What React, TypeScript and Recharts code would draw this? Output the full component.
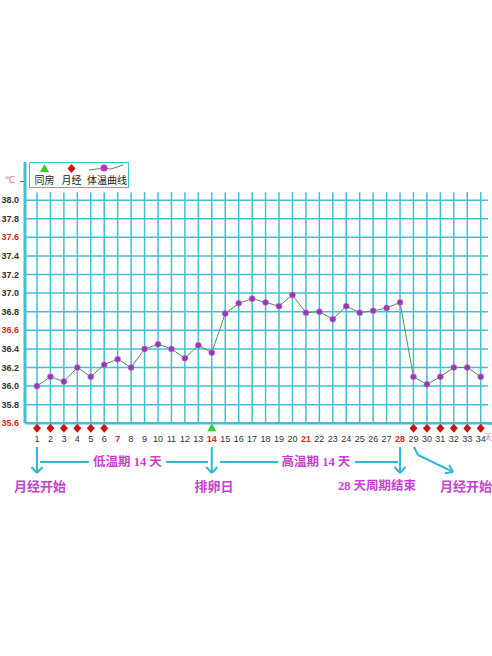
import { ComposedChart, Line, Scatter, XAxis, YAxis, ReferenceLine, ReferenceDot, Legend } from 'recharts';

// ---- data ----
const days = [1, 2, 3, 4, 5, 6, 7, 8, 9, 10, 11, 12, 13, 14, 15, 16, 17, 18, 19, 20, 21, 22, 23, 24, 25, 26, 27, 28, 29, 30, 31, 32, 33, 34];
const temperatures = [
  36.0, 36.1, 36.05, 36.2, 36.1, 36.23, 36.29, 36.2, 36.4, 36.45, 36.4, 36.3, 36.44, 36.36,
  36.78, 36.89, 36.94, 36.9, 36.86, 36.98, 36.79, 36.8, 36.72, 36.86, 36.79, 36.81, 36.84, 36.9,
  36.1, 36.02, 36.1, 36.2, 36.2, 36.1,
];
const tempTicks = [35.6, 35.8, 36.0, 36.2, 36.4, 36.6, 36.8, 37.0, 37.2, 37.4, 37.6, 37.8, 38.0];
const redTempTicks = [35.6, 36.6, 37.6];
const redDays = [7, 14, 21, 28];
const periodDays = [1, 2, 3, 4, 5, 6, 29, 30, 31, 32, 33, 34];
const intercourseDays = [14];

const series = days.map((day, i) => ({ day, temp: temperatures[i] }));
const periodMarks = periodDays.map((day) => ({ day, temp: 35.6 }));
const intercourseMarks = intercourseDays.map((day) => ({ day, temp: 35.6 }));

// ---- look ----
const GRID = '#3fc1d3';
const ARROW = '#2fb6d6';
const PINK = '#c83fd2';
const X_MIN = 0.1075;
const X_MAX = 34.84;
const GRID_RIGHT = 34.54;
const Y_MIN = 35.6;
const Y_MAX = 38.41;
const V_GRID_TOP = 38.086;
const CJK = "'Liberation Serif', 'Noto Sans CJK SC', serif";
const SANS = "'Liberation Sans', Arial, sans-serif";

// annotation levels (temperature units below the axis)
const ARROW_TOP = 35.345;
const ARROW_BOT = 35.066;
const WING = 35.13;
const SPAN_Y = 35.184;
const NOTE_Y = 34.926;

const DayTick = (props: any) => {
  const { x, y, payload } = props;
  const red = redDays.includes(payload.value);
  return (
    <text x={x} y={y + 17} textAnchor="middle" fontSize={9} fontFamily={SANS} fontWeight={red ? 700 : 400} fill={red ? '#d42a2a' : '#333'}>
      {payload.value}
    </text>
  );
};

const TempTick = (props: any) => {
  const { x, y, payload } = props;
  if (payload.value > 38.1) {
    return (
      <g>
        <text x={x - 9} y={y + 1} textAnchor="middle" fontSize={10} fontFamily={SANS} fill="#e06cc0">℃</text>
        <line x1={x + 1} x2={x + 5} y1={y} y2={y} stroke="#666" strokeWidth={1} />
      </g>
    );
  }
  const red = redTempTicks.includes(payload.value);
  return (
    <text x={x} y={y + 3} textAnchor="end" fontSize={9} fontFamily={SANS} fontWeight={700} fill={red ? '#d42a2a' : '#333'}>
      {payload.value.toFixed(1)}
    </text>
  );
};

const Diamond = (props: any) => {
  const { cx, cy } = props;
  const c = cy + 5;
  return <path d={`M${cx},${c - 4.5}L${cx + 4},${c}L${cx},${c + 4.5}L${cx - 4},${c}Z`} fill="#cc1414" />;
};

const Triangle = (props: any) => {
  const { cx, cy } = props;
  const c = cy + 5;
  return <path d={`M${cx},${c - 5}L${cx + 4.5},${c + 3}L${cx - 4.5},${c + 3}Z`} fill="#2ed12e" />;
};

const LegendBox = () => (
  <div
    style={{
      width: 98, height: 24, border: `1px solid ${GRID}`, background: '#fff',
      display: 'flex', fontFamily: "'Noto Sans CJK SC', sans-serif", fontSize: 10, color: '#222',
    }}
  >
    <div style={{ marginLeft: 4, width: 21, textAlign: 'center' }}>
      <svg width={21} height={11} style={{ display: 'block' }}>
        <path d="M10.5,1L15,9L6,9Z" fill="#2ed12e" />
      </svg>
      <div style={{ lineHeight: '12px' }}>同房</div>
    </div>
    <div style={{ marginLeft: 6, width: 21, textAlign: 'center' }}>
      <svg width={21} height={11} style={{ display: 'block' }}>
        <path d="M10.5,1L14.5,5.5L10.5,10L6.5,5.5Z" fill="#cc1414" />
      </svg>
      <div style={{ lineHeight: '12px' }}>月经</div>
    </div>
    <div style={{ marginLeft: 5, width: 40, textAlign: 'center' }}>
      <svg width={40} height={11} style={{ display: 'block' }}>
        <polyline points="2,7 10,6 16,5 24,6 30,4 36,2" fill="none" stroke="#4f8f5a" strokeWidth={1} />
        <circle cx={17} cy={5} r={3.5} fill="#c030d0" />
      </svg>
      <div style={{ lineHeight: '12px' }}>体温曲线</div>
    </div>
  </div>
);

const seg = (x1: number, y1: number, x2: number, y2: number) => [{ x: x1, y: y1 }, { x: x2, y: y2 }];

const downArrow = (d: number) => [
  seg(d, ARROW_TOP, d, ARROW_BOT),
  seg(d - 0.41, WING, d, ARROW_BOT),
  seg(d + 0.41, WING, d, ARROW_BOT),
];

const annotationSegments = [
  ...downArrow(1),
  ...downArrow(14),
  ...downArrow(28),
  seg(1.22, SPAN_Y, 4.87, SPAN_Y),
  seg(10.59, SPAN_Y, 13.72, SPAN_Y),
  seg(14.61, SPAN_Y, 18.92, SPAN_Y),
  seg(24.65, SPAN_Y, 27.85, SPAN_Y),
  seg(29.04, ARROW_TOP, 29.34, 35.259),
  seg(29.34, 35.259, 31.94, 35.077),
  seg(31.35, 35.063, 31.94, 35.077),
  seg(31.65, 35.152, 31.94, 35.077),
];

const notes = [
  { x: 7.73, y: SPAN_Y, text: '低温期 14 天', size: 12.5 },
  { x: 21.75, y: SPAN_Y, text: '高温期 14 天', size: 12.5 },
  { x: 1.22, y: NOTE_Y, text: '月经开始', size: 13 },
  { x: 14.16, y: NOTE_Y, text: '排卵日', size: 13 },
  { x: 26.29, y: NOTE_Y, text: '28 天周期结束', size: 12.5 },
  { x: 32.9, y: NOTE_Y, text: '月经开始', size: 13 },
];

export default function App() {
  return (
    <div style={{ width: 492, height: 656, position: 'relative', background: '#fff', overflow: 'hidden' }}>
      <style>{'body{margin:0}'}</style>
      <ComposedChart width={492} height={656} data={series} margin={{ top: 162, right: 0, bottom: 202.7, left: 0 }}>
        <XAxis
          dataKey="day"
          type="number"
          domain={[X_MIN, X_MAX]}
          ticks={days}
          interval={0}
          height={30}
          tickSize={0}
          tickLine={false}
          axisLine={{ stroke: GRID, strokeWidth: 2.5 }}
          tick={<DayTick />}
        />
        <YAxis
          type="number"
          domain={[Y_MIN, Y_MAX]}
          ticks={[...tempTicks, 38.2]}
          interval={0}
          width={25}
          tickSize={0}
          tickMargin={6}
          tickLine={false}
          axisLine={{ stroke: GRID, strokeWidth: 3 }}
          tick={<TempTick />}
        />
        <Legend
          layout="horizontal"
          verticalAlign="middle"
          align="center"
          wrapperStyle={{ left: 29, top: 162, width: 100, height: 26 }}
          content={() => <LegendBox />}
        />
        {tempTicks.map((v) => (
          <ReferenceLine key={`h${v}`} segment={seg(X_MIN, v, GRID_RIGHT, v)} stroke={GRID} strokeWidth={1.5} ifOverflow="visible" />
        ))}
        {days.map((d) => (
          <ReferenceLine key={`v${d}`} segment={seg(d, Y_MIN, d, V_GRID_TOP)} stroke={GRID} strokeWidth={1.5} ifOverflow="visible" />
        ))}
        <ReferenceLine segment={seg(GRID_RIGHT, Y_MIN, X_MAX, Y_MIN)} stroke={GRID} strokeWidth={2.5} ifOverflow="visible" />
        {annotationSegments.map((s, i) => (
          <ReferenceLine key={`a${i}`} segment={s} stroke={ARROW} strokeWidth={2} ifOverflow="visible" />
        ))}
        {notes.map((n, i) => (
          <ReferenceDot
            key={`n${i}`}
            x={n.x}
            y={n.y}
            r={0}
            ifOverflow="visible"
            label={{ value: n.text, position: 'center', fill: PINK, fontSize: n.size, fontWeight: 700, fontFamily: CJK }}
          />
        ))}
        <ReferenceDot
          x={34.56}
          y={35.453}
          r={0}
          ifOverflow="visible"
          label={{ value: '天', position: 'center', fill: '#e06cc0', fontSize: 8, fontFamily: CJK }}
        />
        <Scatter name="同房" data={intercourseMarks} dataKey="temp" shape={<Triangle />} isAnimationActive={false} />
        <Scatter name="月经" data={periodMarks} dataKey="temp" shape={<Diamond />} isAnimationActive={false} />
        <Line
          name="体温曲线"
          dataKey="temp"
          stroke="#4f8f5a"
          strokeWidth={1}
          dot={{ r: 3, fill: '#9a36b8', stroke: '#b67fd0', strokeWidth: 0.6 }}
          activeDot={false}
          isAnimationActive={false}
        />
      </ComposedChart>
    </div>
  );
}
